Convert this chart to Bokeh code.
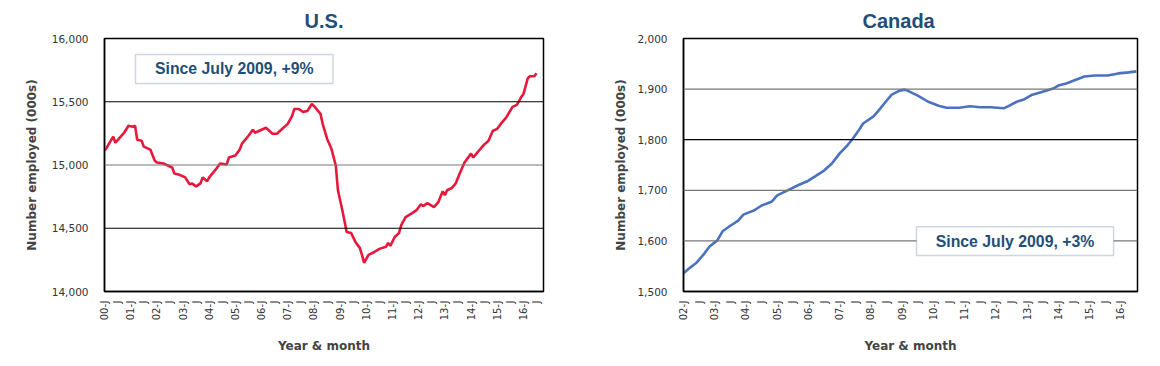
import math
from bokeh.plotting import figure
from bokeh.layouts import row
from bokeh.models import FixedTicker, NumeralTickFormatter, BoxAnnotation, Label, Span
from bokeh.embed import file_html
from bokeh.resources import INLINE

# ---------------- data ----------------
us_dates = ["2000-01", "2000-02", "2000-05", "2000-06", "2000-08", "2000-10", "2000-12",
            "2001-02", "2001-03", "2001-04", "2001-06", "2001-07", "2001-10", "2001-12",
            "2002-01", "2002-04", "2002-06", "2002-08", "2002-09", "2002-11",
            "2003-02", "2003-04", "2003-05", "2003-07", "2003-09", "2003-10", "2003-12",
            "2004-01", "2004-04", "2004-06", "2004-09", "2004-10",
            "2005-01", "2005-03", "2005-04", "2005-07", "2005-09", "2005-10", "2005-12",
            "2006-03", "2006-06", "2006-08", "2006-10",
            "2007-01", "2007-03", "2007-04", "2007-06", "2007-08", "2007-10", "2007-12",
            "2008-01", "2008-04", "2008-05", "2008-07", "2008-09", "2008-11", "2008-12",
            "2009-02", "2009-04", "2009-06", "2009-08", "2009-10", "2009-11", "2009-12",
            "2010-02", "2010-04", "2010-07", "2010-10", "2010-11", "2010-12",
            "2011-02", "2011-04", "2011-05", "2011-07", "2011-10", "2011-12",
            "2012-02", "2012-03", "2012-05", "2012-08", "2012-10", "2012-12",
            "2013-01", "2013-02", "2013-04", "2013-06", "2013-08", "2013-10",
            "2014-01", "2014-02", "2014-05", "2014-07", "2014-09", "2014-11",
            "2015-01", "2015-03", "2015-05", "2015-08", "2015-10", "2015-12",
            "2016-01", "2016-03", "2016-04", "2016-06", "2016-07"]
us_values = [15114, 15137, 15224, 15176, 15216, 15255, 15310,
             15302, 15310, 15200, 15192, 15145, 15122, 15035,
             15020, 15012, 14996, 14980, 14933, 14925,
             14902, 14847, 14855, 14831, 14855, 14902, 14871,
             14902, 14965, 15012, 15004, 15059,
             15075, 15122, 15169, 15231, 15278, 15255, 15271,
             15294, 15247, 15247, 15278,
             15325, 15388, 15443, 15443, 15420, 15427, 15482,
             15467, 15404, 15325, 15208, 15129, 14996, 14800,
             14643, 14471, 14463, 14392, 14345, 14290, 14227,
             14290, 14306, 14337, 14353, 14384, 14361,
             14431, 14463, 14525, 14588, 14620, 14643,
             14690, 14675, 14698, 14667, 14706, 14792,
             14761, 14800, 14816, 14855, 14941, 15020,
             15090, 15059, 15122, 15161, 15192, 15271,
             15286, 15333, 15373, 15459, 15475, 15537,
             15561, 15686, 15702, 15702, 15725]

ca_dates = ["2002-01", "2002-03", "2002-06", "2002-09", "2002-11",
            "2003-02", "2003-04", "2003-07", "2003-10", "2003-12",
            "2004-04", "2004-07", "2004-11",
            "2005-01", "2005-05", "2005-09",
            "2006-01", "2006-04", "2006-07", "2006-10",
            "2007-01", "2007-04", "2007-06", "2007-08", "2007-10",
            "2008-02", "2008-04", "2008-07", "2008-09", "2008-12",
            "2009-02", "2009-03", "2009-07", "2009-11",
            "2010-03", "2010-06", "2010-11",
            "2011-03", "2011-07", "2011-11",
            "2012-04", "2012-06", "2012-09", "2012-12",
            "2013-03", "2013-07", "2013-11",
            "2014-01", "2014-04", "2014-07", "2014-11",
            "2015-03", "2015-08", "2015-12",
            "2016-04", "2016-07"]
ca_values = [1536, 1545, 1557, 1575, 1589,
             1601, 1619, 1630, 1640, 1652,
             1660, 1670, 1678,
             1690, 1700, 1710,
             1719, 1729, 1739, 1753,
             1773, 1789, 1802, 1816, 1832,
             1846, 1858, 1877, 1889, 1897,
             1899, 1897, 1887, 1875,
             1867, 1863, 1863,
             1866, 1864, 1864,
             1862, 1867, 1875, 1880,
             1889, 1895, 1901,
             1907, 1911, 1917, 1925,
             1927, 1927, 1931,
             1933, 1935]

us_title = "U.S."
ca_title = "Canada"
us_note = "Since July 2009, +9%"
ca_note = "Since July 2009, +3%"
y_label = "Number employed (000s)"
x_label = "Year & month"
us_yticks = [14000, 14500, 15000, 15500, 16000]
ca_yticks = [1500, 1600, 1700, 1800, 1900, 2000]
us_start_year, us_last_tick_year = 2000, 2016
ca_start_year, ca_last_tick_year = 2002, 2016

TITLE_COLOR = "#1F4E79"
BOX_LINE = "#5A7C9A"


def month_index(d, start_year):
    y, m = d.split("-")
    return (int(y) - start_year) * 12 + int(m) - 1


def x_ticks(start_year, last_year, include_last_july):
    ticks, labels = [], {}
    for y in range(start_year, last_year + 1):
        for mo, lab in ((0, "%02d-J" % (y % 100)), (6, "J")):
            if y == last_year and mo == 6 and not include_last_july:
                continue
            t = (y - start_year) * 12 + mo
            ticks.append(t)
            labels[t] = lab
    return ticks, labels


def make_fig(title, dates, values, start_year, last_year, include_last_july,
             xr, yr, yticks, grid_colors, color, note, note_box, width,
             min_left, min_right, title_align, title_offset, ylab_standoff):
    xs = [month_index(d, start_year) for d in dates]
    p = figure(width=width, height=358, x_range=xr, y_range=yr,
               output_backend="svg", toolbar_location=None, tools="",
               min_border_left=min_left, min_border_right=min_right,
               min_border_top=38, min_border_bottom=67)
    p.title.text = title
    p.title.align = title_align
    p.title.text_font = "Liberation Sans"
    p.title.text_font_style = "bold"
    p.title.text_font_size = "20px"
    p.title.text_color = TITLE_COLOR
    p.title.offset = title_offset
    p.title.standoff = 14

    p.xgrid.visible = False
    p.ygrid.visible = False
    for v, c in zip(yticks, grid_colors):
        p.add_layout(Span(location=v, dimension="width", line_color=c, line_width=1.2))

    p.outline_line_color = "black"
    p.outline_line_width = 1.5
    p.background_fill_color = "white"
    p.border_fill_color = "white"

    ticks, labels = x_ticks(start_year, last_year, include_last_july)
    p.xaxis.ticker = FixedTicker(ticks=ticks)
    p.xaxis.major_label_overrides = labels
    p.xaxis.major_label_orientation = math.pi / 2
    p.xaxis.major_tick_line_color = None
    p.xaxis.minor_tick_line_color = None
    p.xaxis.major_label_standoff = 3
    p.xaxis.axis_line_color = "black"
    p.xaxis.axis_line_width = 1.5
    p.xaxis.major_label_text_font = "DejaVu Sans"
    p.xaxis.major_label_text_font_size = "10px"
    p.xaxis.major_label_text_color = "#333333"
    p.xaxis.axis_label = x_label
    p.xaxis.axis_label_text_font = "DejaVu Sans"
    p.xaxis.axis_label_text_font_style = "bold"
    p.xaxis.axis_label_text_font_size = "12px"
    p.xaxis.axis_label_standoff = 16

    p.yaxis.ticker = FixedTicker(ticks=yticks)
    p.yaxis.formatter = NumeralTickFormatter(format="0,0")
    p.yaxis.major_tick_line_color = None
    p.yaxis.minor_tick_line_color = None
    p.yaxis.major_label_standoff = 10
    p.yaxis.axis_line_color = "black"
    p.yaxis.axis_line_width = 1.5
    p.yaxis.major_label_text_font = "DejaVu Sans"
    p.yaxis.major_label_text_font_size = "10.5px"
    p.yaxis.major_label_text_color = "#333333"
    p.yaxis.axis_label = y_label
    p.yaxis.axis_label_text_font = "DejaVu Sans"
    p.yaxis.axis_label_text_font_style = "bold"
    p.yaxis.axis_label_text_font_size = "12px"
    p.yaxis.axis_label_standoff = ylab_standoff

    p.line(xs, values, line_color=color, line_width=2.6)

    l, r, b, t = note_box
    p.add_layout(BoxAnnotation(left=l, right=r, bottom=b, top=t,
                               fill_color="white", fill_alpha=1.0,
                               line_color=BOX_LINE, line_width=1.5))
    p.add_layout(Label(x=(l + r) / 2, y=(b + t) / 2, text=note,
                       text_align="center", text_baseline="middle",
                       text_font="Liberation Sans", text_font_style="bold",
                       text_font_size="15.8px", text_color=TITLE_COLOR))
    return p


p1 = make_fig(us_title, us_dates, us_values, us_start_year, us_last_tick_year, True,
              (0, 201.2), (14000, 16000), us_yticks,
              ["black", "black", "#777777", "black", "black"],
              "#E8183C", us_note, (14.2, 104.7, 15644, 15874), 568,
              104, 25, "center", 0, 10)
p2 = make_fig(ca_title, ca_dates, ca_values, ca_start_year, ca_last_tick_year, False,
              (0, 174.4), (1500, 2000), ca_yticks,
              ["black", "#777777", "#777777", "black", "#777777", "black"],
              "#4A72BE", ca_note, (89.5, 165.2, 1571, 1628), 584,
              115, 15, "left", 179, 6)

layout = row(p1, p2)
open("out.html", "w").write(file_html(layout, INLINE))
